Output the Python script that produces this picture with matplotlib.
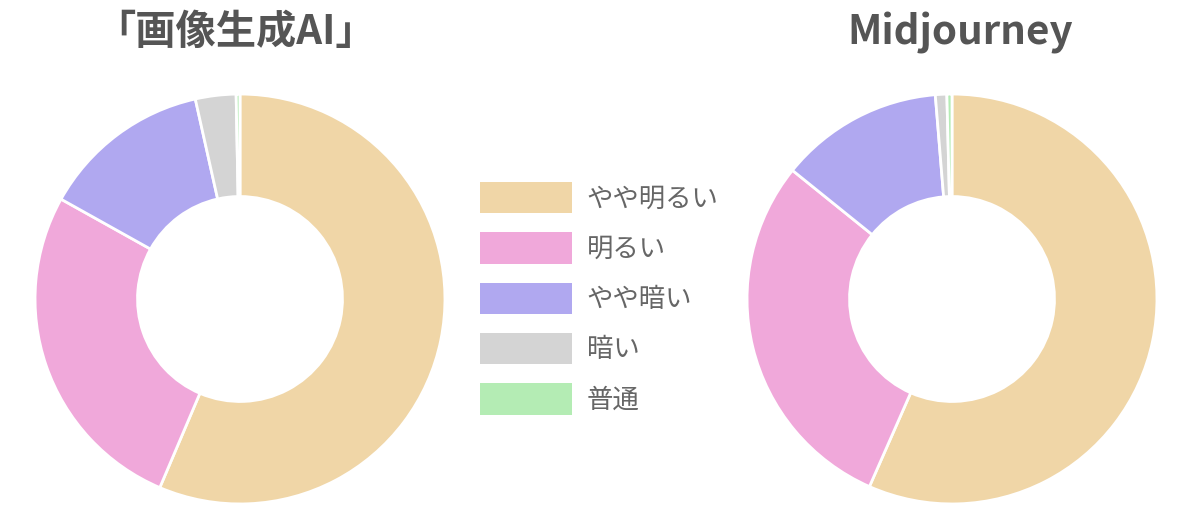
import matplotlib
matplotlib.use("Agg")
import matplotlib.pyplot as plt

plt.rcParams['font.family'] = ['Noto Sans CJK JP', 'DejaVu Sans']

categories = ["やや明るい", "明るい", "やや暗い", "暗い", "普通"]
colors = ["#F0D6A7", "#F0A8DA", "#B0A8F0", "#D4D4D4", "#B4ECB4"]
titles = ["「画像生成AI」", "Midjourney"]
values_ai = [56.4, 26.7, 13.4, 3.2, 0.3]
values_mj = [56.6, 29.2, 12.9, 0.9, 0.4]

W, H = 1200, 507
fig = plt.figure(figsize=(W / 100, H / 100), dpi=100)

def add_donut(cx, cy, r, vals, title, tx, ty):
    ax = fig.add_axes([(cx - r) / W, (H - cy - r) / H, 2 * r / W, 2 * r / H])
    wedges, _ = ax.pie(vals, colors=colors, startangle=90, counterclock=False,
                       radius=1.0,
                       wedgeprops=dict(width=0.5, edgecolor="white", linewidth=2))
    ax.set_xlim(-1.01, 1.01)
    ax.set_ylim(-1.01, 1.01)
    ax.set_aspect("equal")
    ax.axis("off")
    fig.text(tx / W, 1 - ty / H, title, ha="center", va="center",
             fontsize=29, fontweight="bold", color="#555555")
    return wedges

w1 = add_donut(240, 299, 207, values_ai, titles[0], 236, 33)
w2 = add_donut(952, 299, 207, values_mj, titles[1], 960, 33)

leg = fig.legend(w1, categories, loc="upper left",
                 bbox_to_anchor=(480 / W, 1 - 182 / H),
                 frameon=False, fontsize=19, labelcolor="#666666",
                 handlelength=3.5, handleheight=1.45, handletextpad=0.55,
                 labelspacing=0.72, borderpad=0, borderaxespad=0)
for h in leg.legend_handles:
    h.set_edgecolor("none")

fig.savefig("out.png", dpi=100, facecolor="white")
